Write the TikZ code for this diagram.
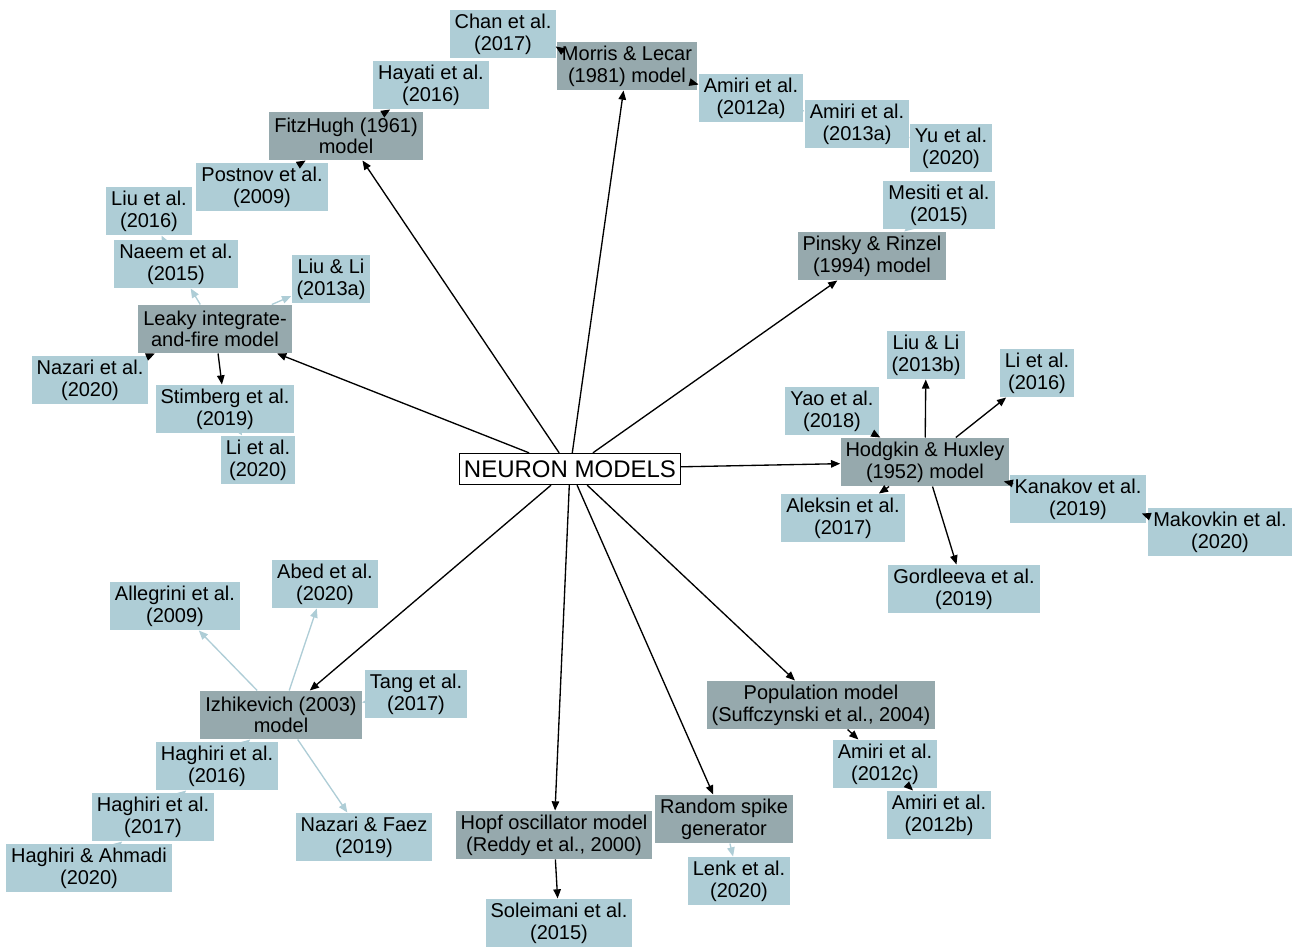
\documentclass[tikz,border=0pt]{standalone}
\usepackage{fontspec}
\setmainfont{Liberation Sans}
\usetikzlibrary{arrows.meta,calc}
\definecolor{modelcol}{RGB}{150,169,173}
\definecolor{citecol}{RGB}{174,205,214}

\begin{document}
\begin{tikzpicture}[x=0.6pt, y=-0.6pt,
  model/.style={rectangle, fill=modelcol, font=\fontsize{12}{13}\selectfont,
                align=center, inner xsep=3pt, inner ysep=0pt, minimum height=29pt},
  cite/.style={model, fill=citecol},
  root/.style={rectangle, draw, fill=white, line width=0.8pt,
               font=\fontsize{14.4}{16}\selectfont, inner xsep=2.7pt, inner ysep=0pt,
               minimum height=18.6pt},
  ar/.style={-{Triangle[length=5.5pt,width=4.5pt]}, line width=0.8pt, black},
  lar/.style={ar, citecol}
]
\useasboundingbox (0,0) rectangle (1299,948);

\node[root] (root) at (570,469) {NEURON MODELS};

% models
\node[model] (morris) at (627,66)  {Morris \& Lecar\\(1981) model};
\node[model] (fitz)   at (346,136) {FitzHugh (1961)\\model};
\node[model] (lif)    at (215,329) {Leaky integrate-\\and-fire model};
\node[model] (pinsky) at (872,256) {Pinsky \& Rinzel\\(1994) model};
\node[model] (hh)     at (925,462) {Hodgkin \& Huxley\\(1952) model};
\node[model] (pop)    at (821,705) {Population model\\(Suffczynski et al., 2004)};
\node[model] (spike)  at (724,819) {Random spike\\generator};
\node[model] (hopf)   at (554,835) {Hopf oscillator model\\(Reddy et al., 2000)};
\node[model] (izh)    at (281,715) {Izhikevich (2003)\\model};

% citations
\node[cite] (chan)      at (503,34)  {Chan et al.\\(2017)};
\node[cite] (hayati)    at (431,85)  {Hayati et al.\\(2016)};
\node[cite] (postnov)   at (262,187) {Postnov et al.\\(2009)};
\node[cite] (liu)       at (149,211) {Liu et al.\\(2016)};
\node[cite] (naeem)     at (176,264) {Naeem et al.\\(2015)};
\node[cite] (liulia)    at (331,279) {Liu \& Li\\(2013a)};
\node[cite] (nazari)    at (90,380)  {Nazari et al.\\(2020)};
\node[cite] (stimberg)  at (225,409) {Stimberg et al.\\(2019)};
\node[cite] (lieta)     at (258,460) {Li et al.\\(2020)};
\node[cite] (amiria)    at (751,98)  {Amiri et al.\\(2012a)};
\node[cite] (amirit)    at (857,124) {Amiri et al.\\(2013a)};
\node[cite] (yu)        at (951,148) {Yu et al.\\(2020)};
\node[cite] (mesiti)    at (939,205) {Mesiti et al.\\(2015)};
\node[cite] (liulib)    at (926,355) {Liu \& Li\\(2013b)};
\node[cite] (lietb)     at (1037,373) {Li et al.\\(2016)};
\node[cite] (yao)       at (832,411) {Yao et al.\\(2018)};
\node[cite] (aleksin)   at (843,518) {Aleksin et al.\\(2017)};
\node[cite] (kanakov)   at (1078,499) {Kanakov et al.\\(2019)};
\node[cite] (makovkin)  at (1220,532) {Makovkin et al.\\(2020)};
\node[cite] (gordleeva) at (964,589) {Gordleeva et al.\\(2019)};
\node[cite] (amiric)    at (885,764) {Amiri et al.\\(2012c)};
\node[cite] (amirib)    at (939,815) {Amiri et al.\\(2012b)};
\node[cite] (lenk)      at (739,881) {Lenk et al.\\(2020)};
\node[cite] (soleimani) at (559,923) {Soleimani et al.\\(2015)};
\node[cite] (nazfaez)   at (364,837) {Nazari \& Faez\\(2019)};
\node[cite] (tang)      at (416,694) {Tang et al.\\(2017)};
\node[cite] (abed)      at (325,584) {Abed et al.\\(2020)};
\node[cite] (allegrini) at (175,606) {Allegrini et al.\\(2009)};
\node[cite] (hagsix)    at (217,766) {Haghiri et al.\\(2016)};
\node[cite] (hagseven)  at (153,817) {Haghiri et al.\\(2017)};
\node[cite] (hagahm)    at (89,868)  {Haghiri \& Ahmadi\\(2020)};

\foreach \s in {fitz,morris,pinsky,lif,hh,izh,hopf,spike,pop}
  \draw[ar] (root) -- (\s);

\foreach \a/\b in {fitz/hayati, postnov/fitz, morris/amiria,
                   lif/stimberg, nazari/lif, hh/liulib, hh/lietb, yao/hh,
                   hh/aleksin, hh/gordleeva,
                   pop/amiric, amiric/amirib, hopf/soleimani}
  \draw[ar] (\a) -- (\b);

% boxes that touch
\draw[ar] ($(morris.north west)+(8,11)$) -- ($(chan.south east)+(-1,-12)$);
\draw[ar] ($(kanakov.north west)+(4,9)$) -- ($(hh.south east)+(-6,-5)$);
\draw[ar] ($(makovkin.north west)+(2,9)$) -- ($(kanakov.south east)+(-5,-10)$);

\foreach \a/\b in {lif/naeem, naeem/liu, lif/liulia, stimberg/lieta,
                   amiria/amirit, amirit/yu, mesiti/pinsky, spike/lenk,
                   izh/allegrini, izh/abed, tang/izh, izh/nazfaez,
                   hagsix/izh, hagseven/hagsix, hagahm/hagseven}
  \draw[lar] (\a) -- (\b);

\end{tikzpicture}
\end{document}
